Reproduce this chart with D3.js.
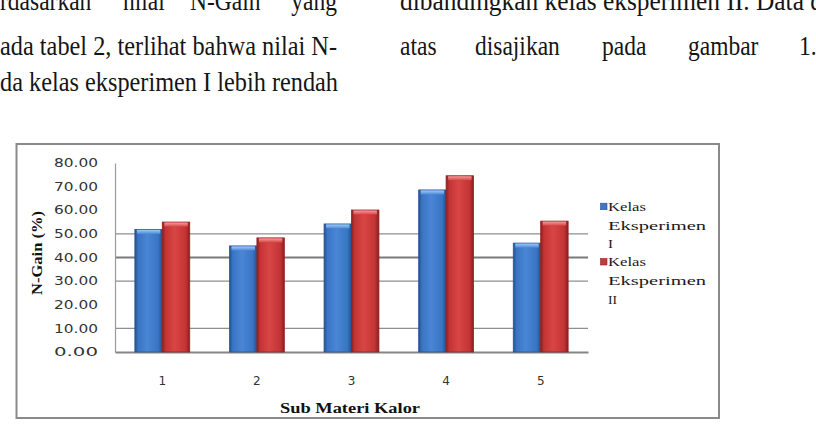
<!DOCTYPE html>
<html><head><meta charset="utf-8">
<script src="https://cdn.jsdelivr.net/npm/d3@7"></script>
<style>html,body{margin:0;padding:0;background:#fff;overflow:hidden}</style>
</head><body>
<svg id="c" width="816" height="430"></svg>
<script>
// ---- data ----
const categories = ["1", "2", "3", "4", "5"];
const seriesNames = ["Kelas Eksperimen I", "Kelas Eksperimen II"];
const eksperimenI = [51.9, 44.9, 54.2, 68.6, 46.1];
const eksperimenII = [55.0, 48.3, 60.1, 74.6, 55.4];
const yTicks = [0, 10, 20, 30, 40, 50, 60, 70, 80];
const gridValues = [10, 30, 40, 50];   // gridlines visible in the reference
const legendLines = [["Kelas", "Eksperimen", "I"], ["Kelas", "Eksperimen", "II"]];
const leftText = [
  ["rdasarkan", "nilai", "N-Gain", "yang"],
  ["ada tabel 2, terlihat bahwa nilai N-"],
  ["da kelas eksperimen I lebih rendah"]
];
const rightText = [
  ["dibandingkan kelas eksperimen II. Data di"],
  ["atas", "disajikan", "pada", "gambar", "1."]
];

const svg = d3.select("#c");
const defs = svg.append("defs");

// ---- body text (justified columns, slightly condensed) ----
const serif = "'Liberation Serif','Times New Roman',serif";
const condense = 0.87;
const bodyG = svg.append("g").attr("font-family", serif).attr("font-size", 27).attr("fill", "#151515");
function placeLine(words, xs, base, anchorEnd, fullWidth) {
  words.forEach((w, j) => {
    const t = bodyG.append("text").attr("y", base).text(w);
    if (fullWidth) {
      t.attr("x", xs[j]).attr("textLength", fullWidth).attr("lengthAdjust", "spacingAndGlyphs");
      return;
    }
    const nat = t.node().getComputedTextLength();
    const wd = nat * condense;
    let x = xs[j];
    if (anchorEnd !== null && j === words.length - 1) x = anchorEnd - wd;
    t.attr("x", x).attr("textLength", wd).attr("lengthAdjust", "spacingAndGlyphs");
  });
}
placeLine(leftText[0], [0, 123, 190, 0], 10, 337, null);
placeLine(leftText[1], [0], 55, null, 337);
placeLine(leftText[2], [0], 91, null, 338);
placeLine(rightText[0], [400], 10, null, 430);
placeLine(rightText[1], [400, 475, 602, 688, 799], 55, null, null);

// ---- chart frame ----
svg.append("rect").attr("x", 16.5).attr("y", 144).attr("width", 702.5).attr("height", 274)
  .attr("fill", "#fff").attr("stroke", "#8a8a8a").attr("stroke-width", 2);

// ---- scales ----
const y = d3.scaleLinear().domain([0, 80]).range([352, 163]);
const x0 = d3.scaleBand().domain(categories).range([115, 588]).paddingInner(0.42).paddingOuter(0.21);
const x1 = d3.scaleBand().domain([0, 1]).range([0, x0.bandwidth()]);

// gridlines
svg.append("g").selectAll("line").data(gridValues).join("line")
  .attr("x1", 115).attr("x2", 588)
  .attr("y1", d => y(d)).attr("y2", d => y(d))
  .attr("stroke", d => d === 40 ? "#7a7a7a" : "#8f8f8f")
  .attr("stroke-width", d => d === 40 ? 2 : 1.2);

// y axis (labels)
const yAxis = d3.axisLeft(y).tickValues(yTicks).tickFormat(d3.format(".2f")).tickSize(0).tickPadding(17);
const yg = svg.append("g").attr("transform", "translate(115,0)").call(yAxis);
yg.select(".domain").attr("stroke", "#9a9a9a").attr("stroke-width", 1.2);
yg.selectAll("text").attr("font-family", "'DejaVu Sans',Verdana,sans-serif").attr("font-size", 11.5)
  .attr("fill", "#333").attr("textLength", 44).attr("lengthAdjust", "spacingAndGlyphs");

// x axis
const xAxis = d3.axisBottom(x0).tickSize(0).tickPadding(24);
const xg = svg.append("g").attr("transform", "translate(0,352)").call(xAxis);
xg.select(".domain").attr("stroke", "#858585").attr("stroke-width", 2.2);
xg.selectAll("text").attr("font-family", "'DejaVu Sans',Verdana,sans-serif").attr("font-size", 12).attr("fill", "#333");

// ---- gradients for bars ----
function makeGrad(id, dark, mid, light) {
  const g = defs.append("linearGradient").attr("id", id).attr("x1", 0).attr("x2", 1).attr("y1", 0).attr("y2", 0);
  g.append("stop").attr("offset", 0).attr("stop-color", dark);
  g.append("stop").attr("offset", 0.12).attr("stop-color", mid);
  g.append("stop").attr("offset", 0.45).attr("stop-color", light);
  g.append("stop").attr("offset", 0.85).attr("stop-color", mid);
  g.append("stop").attr("offset", 1).attr("stop-color", dark);
}
makeGrad("gBlue", "#23508f", "#3a74c4", "#4a86d6");
makeGrad("gRed", "#8a1f1f", "#c43434", "#d84545");
function makeTop(id, c1, c2) {
  const g = defs.append("linearGradient").attr("id", id).attr("x1", 0).attr("x2", 0).attr("y1", 0).attr("y2", 1);
  g.append("stop").attr("offset", 0).attr("stop-color", c1);
  g.append("stop").attr("offset", 1).attr("stop-color", c2);
}
makeTop("tBlue", "#9cc8f5", "#4f8bd9");
makeTop("tRed", "#f59a9a", "#d74848");

const series = [eksperimenI, eksperimenII];
const fills = ["url(#gBlue)", "url(#gRed)"];
const tops = ["url(#tBlue)", "url(#tRed)"];
const edges = ["#2a5596", "#8f2424"];
const legendColors = ["#3e76c6", "#c23a3a"];

const barsG = svg.append("g");
series.forEach((vals, s) => {
  const g = barsG.append("g");
  g.selectAll("rect.bar").data(vals).join("rect").attr("class", "bar")
    .attr("x", (d, i) => x0(categories[i]) + x1(s))
    .attr("y", d => y(d))
    .attr("width", x1.bandwidth())
    .attr("height", d => y(0) - y(d))
    .attr("fill", fills[s]).attr("stroke", edges[s]).attr("stroke-width", 0.8);
  g.selectAll("rect.top").data(vals).join("rect").attr("class", "top")
    .attr("x", (d, i) => x0(categories[i]) + x1(s) + 2)
    .attr("y", d => y(d) + 0.5)
    .attr("width", x1.bandwidth() - 4)
    .attr("height", 4)
    .attr("fill", tops[s]);
});

// ---- titles ----
svg.append("text").attr("x", 350).attr("y", 413).attr("text-anchor", "middle")
  .attr("font-family", serif).attr("font-weight", "bold").attr("font-size", 14).attr("fill", "#111")
  .attr("textLength", 140).attr("lengthAdjust", "spacingAndGlyphs").text("Sub Materi Kalor");
svg.append("text").attr("transform", "translate(42,253) rotate(-90)").attr("text-anchor", "middle")
  .attr("font-family", serif).attr("font-weight", "bold").attr("font-size", 15).attr("fill", "#111")
  .attr("textLength", 84).attr("lengthAdjust", "spacingAndGlyphs").text("N-Gain (%)");

// ---- legend ----
const lg = svg.append("g").attr("font-family", serif).attr("font-size", 13.5).attr("fill", "#1a1a1a");
const legendTop = [210.7, 266];
const legendWidths = {"Kelas": 38, "Eksperimen": 98, "I": 5, "II": 9};
legendLines.forEach((lines, s) => {
  lg.append("rect").attr("x", 600.5).attr("y", legendTop[s] - 7.5).attr("width", 6.5).attr("height", 6.5)
    .attr("fill", legendColors[s]).attr("stroke", edges[s]).attr("stroke-width", 0.6);
  lines.forEach((t, k) => {
    lg.append("text").attr("x", 608).attr("y", legendTop[s] + k * 18.8)
      .attr("textLength", legendWidths[t]).attr("lengthAdjust", "spacingAndGlyphs").text(t);
  });
});
</script>
</body></html>
